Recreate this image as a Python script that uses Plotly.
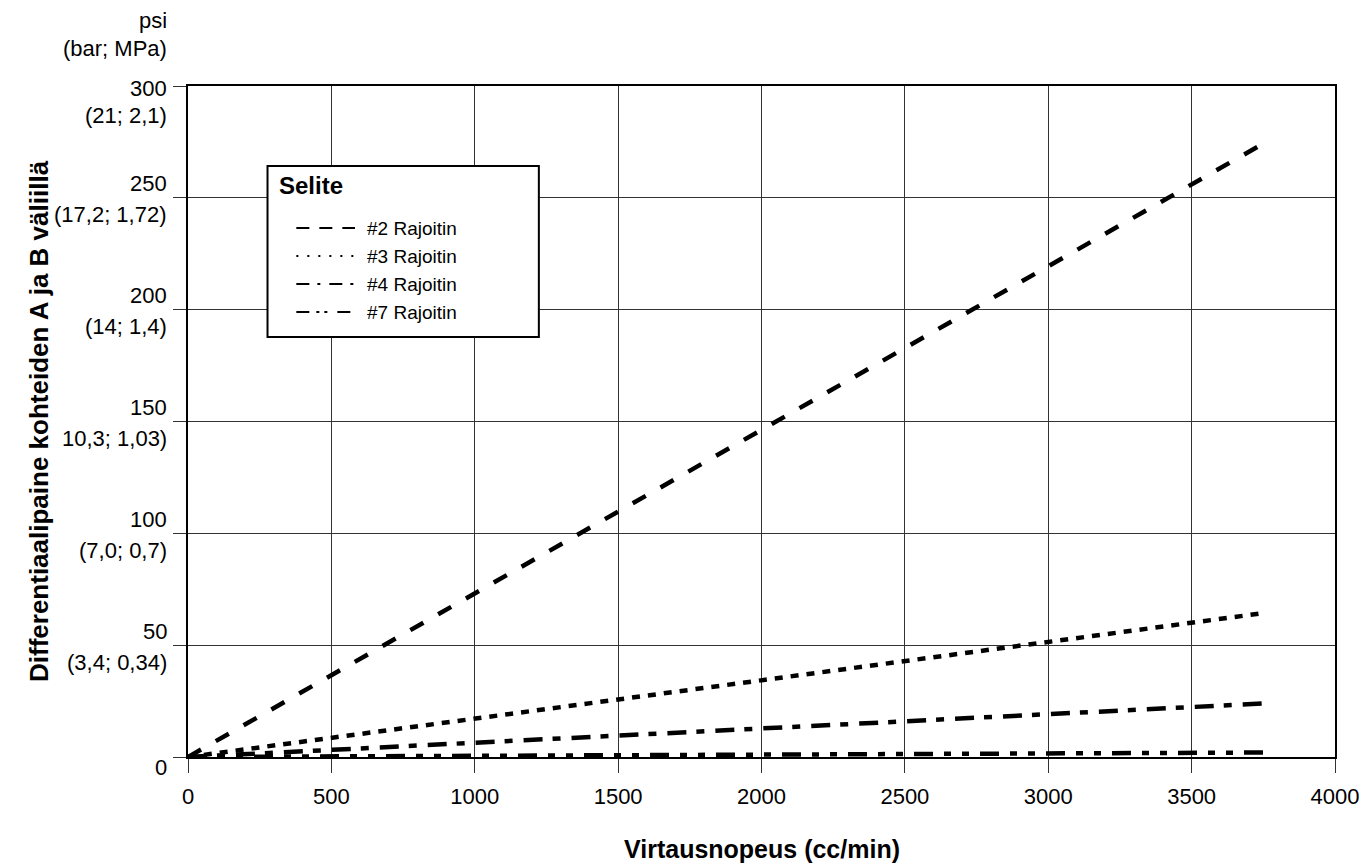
import plotly.graph_objects as go

# flow (cc/min) and pressure drop (psi) for each restrictor
flow = [0, 3760]
r2 = [0, 275]
r3 = [0, 64.5]
r4 = [0, 24]
r7 = [0, 2]

names = ["#2 Rajoitin", "#3 Rajoitin", "#4 Rajoitin", "#7 Rajoitin"]
dashes = ["15px,17px", "8px,8px", "19px,10px,8px,11px", "19px,11px,7px,11px,7px,11px"]
legend_dashes = ["13px,10px", "2px,9px", "13px,8px,3px,9px", "13px,7px,3px,5px,3px,10px"]

y_ticks = [0, 50, 100, 150, 200, 250, 300]
psi_labels = ["0", "50", "100", "150", "200", "250", "300"]
metric_labels = ["", "(3,4; 0,34)", "(7,0; 0,7)", "10,3; 1,03)", "(14; 1,4)", "(17,2; 1,72)", "(21; 2,1)"]
x_ticks = [0, 500, 1000, 1500, 2000, 2500, 3000, 3500, 4000]

FONT = "Liberation Sans, Arial, Helvetica, sans-serif"

# plot area in page pixels
L, R, T, B = 188, 1342, 86, 757


def px(x):
    return (x - L) / (R - L)


def py(y):
    return (B - y) / (B - T)


fig = go.Figure()
for ys, nm, d in zip([r2, r3, r4, r7], names, dashes):
    fig.add_trace(go.Scatter(x=flow, y=ys, mode="lines", name=nm, showlegend=False,
                             line=dict(color="black", width=4.5, dash=d)))

fig.update_xaxes(range=[0, 4000], tickvals=x_ticks, showgrid=True, gridcolor="#333", gridwidth=1,
                 showline=True, linecolor="black", linewidth=2, mirror=True,
                 ticks="outside", ticklen=14, tickcolor="#333", tickwidth=1,
                 ticklabelstandoff=5, zeroline=False, tickfont=dict(size=22, color="black"))
fig.update_yaxes(range=[0, 300], tickvals=y_ticks, showticklabels=False, showgrid=True,
                 gridcolor="#333", gridwidth=1, showline=True, linecolor="black", linewidth=2,
                 mirror=True, ticks="outside", ticklen=13, tickcolor="#333", tickwidth=1,
                 zeroline=False)

# y tick labels: psi above the grid line, bar/MPa below
for v, p, m in zip(y_ticks, psi_labels, metric_labels):
    if v == 300:
        s1, s2 = -2, -29
    elif v == 0:
        s1, s2 = -10, 0
    else:
        s1, s2 = 14, -17
    fig.add_annotation(x=0, xref="paper", xanchor="right", xshift=-19, y=v, yref="y",
                       yanchor="middle", yshift=s1, text=p, showarrow=False,
                       font=dict(size=22, color="black"))
    if m:
        fig.add_annotation(x=0, xref="paper", xanchor="right", xshift=-19, y=v, yref="y",
                           yanchor="middle", yshift=s2, text=m, showarrow=False,
                           font=dict(size=22, color="black"))

fig.add_annotation(x=0, xref="paper", xanchor="right", xshift=-19, y=1, yref="paper",
                   yanchor="middle", yshift=66, text="psi", showarrow=False,
                   font=dict(size=22, color="black"))
fig.add_annotation(x=0, xref="paper", xanchor="right", xshift=-19, y=1, yref="paper",
                   yanchor="middle", yshift=38, text="(bar; MPa)", showarrow=False,
                   font=dict(size=22, color="black"))

fig.add_annotation(x=0.5, xref="paper", y=0, yref="paper", yshift=-92, yanchor="middle",
                   text="<b>Virtausnopeus (cc/min)</b>", showarrow=False,
                   font=dict(size=25, color="black"))
fig.add_annotation(x=0, xref="paper", xshift=-166, y=py(421), yref="paper", textangle=-90,
                   text="<b>Differentiaalipaine kohteiden A ja B väliillä</b>", showarrow=False,
                   font=dict(size=26, color="black"))

# legend box drawn by hand
fig.add_shape(type="rect", xref="paper", yref="paper", x0=px(268), x1=px(541), y0=py(337), y1=py(166),
              line=dict(color="black", width=2), fillcolor="white", layer="above")
fig.add_annotation(x=px(278), xref="paper", xanchor="left", y=py(185), yref="paper",
                   yanchor="middle", text="<b>Selite</b>", showarrow=False,
                   font=dict(size=24, color="black"))
for i, (nm, d) in enumerate(zip(names, legend_dashes)):
    yy = py([228, 256, 284, 312][i])
    fig.add_shape(type="line", xref="paper", yref="paper", x0=px(297), x1=px(356), y0=yy, y1=yy,
                  line=dict(color="black", width=2, dash=d), layer="above")
    fig.add_annotation(x=px(366), xref="paper", xanchor="left", y=yy, yref="paper",
                       yanchor="middle", text=nm, showarrow=False,
                       font=dict(size=19, color="black"))

fig.update_layout(
    width=1371, height=865,
    margin=dict(l=L, r=1371 - R, t=T, b=865 - B),
    plot_bgcolor="white", paper_bgcolor="white",
    font=dict(family=FONT, color="black"),
    showlegend=False,
)

fig.write_html("out.html", config={"displayModeBar": False},
               post_script="document.body.style.margin='0';")
